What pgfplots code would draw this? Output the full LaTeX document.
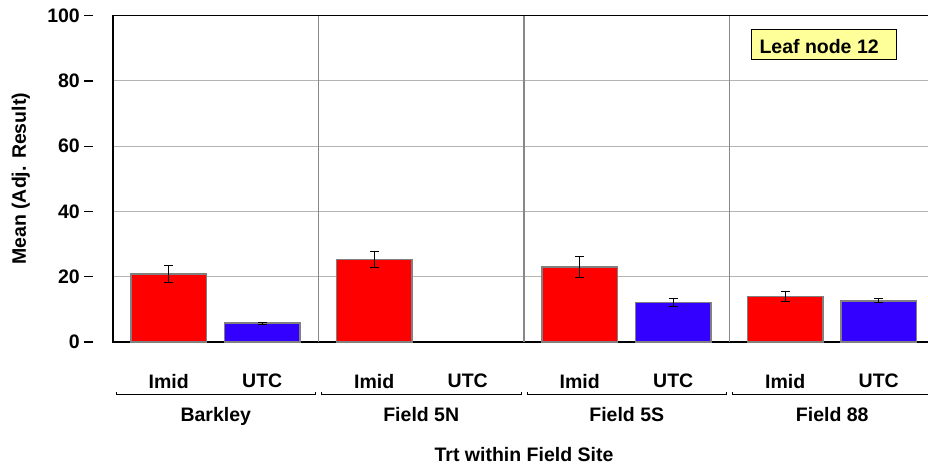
\documentclass[border=0pt]{standalone}
\usepackage{fontspec}
\setmainfont{Liberation Sans}
\usepackage{pgfplots}
\pgfplotsset{compat=1.18}

\definecolor{barred}{RGB}{255,0,0}
\definecolor{barblue}{RGB}{51,0,255}
\definecolor{edgegray}{RGB}{128,128,128}
\definecolor{gridgray}{RGB}{180,180,180}
\definecolor{sepgray}{RGB}{136,136,136}
\definecolor{noteyellow}{RGB}{255,255,153}
\newcommand{\lbl}{\fontsize{19.5bp}{23bp}\selectfont\bfseries}
\tikzset{bracket/.style={black, line width=1bp}}

\begin{document}
\begin{tikzpicture}
\useasboundingbox (0,0) rectangle (928bp,467bp);
\clip (0,0) rectangle (928bp,467bp);
\begin{axis}[
  at={(113bp,125bp)}, anchor=south west,
  scale only axis, width=822bp, height=326.3bp,
  xmin=0, xmax=4, ymin=0, ymax=100,
  clip=false,
  axis line style={black, line width=1.3bp},
  major tick length=0pt,
  /pgf/number format/assume math mode=true,
  ytick={0,20,40,60,80,100},
  ymajorgrids, grid style={gridgray, line width=1bp},
  yticklabel style={font=\lbl, inner sep=0pt, anchor=east, xshift=-33bp},
  xtick={0.2713,0.7263,1.2713,1.7263,2.2713,2.7263,3.2713,3.7263},
  xticklabels={Imid,UTC,Imid,UTC,Imid,UTC,Imid,UTC},
  xticklabel style={font=\lbl, inner sep=0pt, anchor=north, yshift=-32bp},
  tick style={draw=none},
]
% panel separators
\pgfplotsinvokeforeach{1,2,3}{
  \draw[sepgray, line width=1.2bp] (axis cs:#1,0) -- (axis cs:#1,100);
}
% y tick dashes, set apart from the axis line
\pgfplotsinvokeforeach{0,20,40,60,80,100}{
  \draw[black, line width=1.3bp] ([xshift=-29bp]axis cs:0,#1) -- ([xshift=-20bp]axis cs:0,#1);
}
% Imid means with standard errors
\addplot[ybar, bar width=0.3674, bar shift=0pt, fill=barred, draw=edgegray, line width=1.3bp,
  error bars/.cd, y dir=both, y explicit,
  error bar style={black, line width=1bp},
  error mark options={black, line width=1bp, mark size=4.5bp, rotate=90}]
  coordinates {(0.2713,20.8) +- (0,2.7) (1.2713,25.3) +- (0,2.5)
               (2.2713,23.0) +- (0,3.2) (3.2713,13.9) +- (0,1.6)};
% UTC means with standard errors
\addplot[ybar, bar width=0.3674, bar shift=0pt, fill=barblue, draw=edgegray, line width=1.3bp,
  error bars/.cd, y dir=both, y explicit,
  error bar style={black, line width=1bp},
  error mark options={black, line width=1bp, mark size=4.5bp, rotate=90}]
  coordinates {(0.7263,5.8) +- (0,0.3)
               (2.7263,12.1) +- (0,1.1) (3.7263,12.6) +- (0,0.6)};
% field site brackets
\pgfplotsinvokeforeach{0,1,2,3}{
  \draw[bracket]
    ([yshift=-50bp]axis cs:#1+0.0146,0) -- ([yshift=-52.5bp]axis cs:#1+0.0146,0)
    -- ([yshift=-52.5bp]axis cs:#1+0.9854,0) -- ([yshift=-50bp]axis cs:#1+0.9854,0);
}
% field site names
\node[font=\lbl, inner sep=0pt, anchor=north] at ([yshift=-65bp]axis cs:0.5,0) {Barkley};
\node[font=\lbl, inner sep=0pt, anchor=north] at ([yshift=-65bp]axis cs:1.5,0) {Field 5N};
\node[font=\lbl, inner sep=0pt, anchor=north] at ([yshift=-65bp]axis cs:2.5,0) {Field 5S};
\node[font=\lbl, inner sep=0pt, anchor=north] at ([yshift=-65bp]axis cs:3.5,0) {Field 88};
\node[font=\lbl, inner sep=0pt, anchor=north] at ([yshift=-104.7bp]axis cs:2,0) {Trt within Field Site};
\node[font=\lbl, inner sep=0pt, anchor=base, rotate=90] at ([xshift=-87bp]rel axis cs:0,0.5) {Mean (Adj. Result)};
\end{axis}
% leaf label
\draw[black, line width=1bp, fill=noteyellow] (751.7bp,407.7bp) rectangle (896.7bp,437.7bp);
\node[font=\lbl, inner sep=0pt, anchor=base west] at (759.3bp,413.7bp) {Leaf node 12};
\end{tikzpicture}
\end{document}
